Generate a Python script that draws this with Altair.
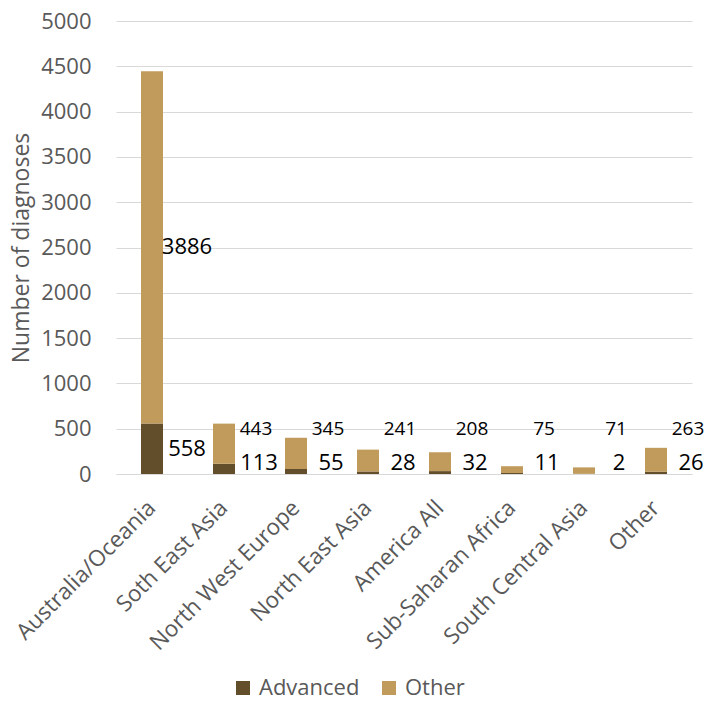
import altair as alt
import pandas as pd

regions = ["Australia/Oceania", "Soth East Asia", "North West Europe", "North East Asia",
           "America All", "Sub-Saharan Africa", "South Central Asia", "Other"]
advanced = [558, 113, 55, 28, 32, 11, 2, 26]
other = [3886, 443, 345, 241, 208, 75, 71, 263]
series = ["Advanced", "Other"]
colors = ["#624e2a", "#c19b5b"]
y_ticks = list(range(0, 5001, 500))

rows = []
for i, r in enumerate(regions):
    a, o = advanced[i], other[i]
    rows.append({"region": r, "series": "Advanced", "value": a, "order": 0,
                 "label": str(a), "ly": max(a / 2, 121), "big": 1})
    rows.append({"region": r, "series": "Other", "value": o, "order": 1,
                 "label": str(o), "ly": max(a + o / 2, 497), "big": 1 if o > 1000 else 0})
df = pd.DataFrame(rows)

FONT = "Open Sans"
GREY = "#595959"

base = alt.Chart(df)

bars = base.mark_bar(size=22).encode(
    x=alt.X("region:N", sort=regions, title=None,
            axis=alt.Axis(labelAngle=-45, labelFontSize=22.5, labelColor=GREY, labelFont=FONT,
                          ticks=False, labelPadding=30, domainColor="#d9d9d9", labelLimit=0,
                          labelAlign="right", labelBaseline="middle")),
    y=alt.Y("value:Q", stack="zero", title="Number of diagnoses",
            scale=alt.Scale(domain=[0, 5000], nice=False),
            axis=alt.Axis(values=y_ticks, format="d", labelFontSize=22, labelColor=GREY, labelFont=FONT,
                          titleFontSize=23, titleColor=GREY, titleFont=FONT, titleFontWeight="normal",
                          gridColor="#d9d9d9", domain=False, ticks=False, labelPadding=25,
                          titlePadding=7)),
    color=alt.Color("series:N", sort=series, scale=alt.Scale(domain=series, range=colors),
                    legend=alt.Legend(title=None, orient="none", direction="horizontal",
                                      legendX=116, legendY=656, symbolType="square", symbolSize=196,
                                      symbolStrokeWidth=0, labelFontSize=22, labelColor=GREY,
                                      labelFont=FONT, columnPadding=18, labelOffset=5)),
    order=alt.Order("order:Q"),
)

labels_big = base.transform_filter("datum.big == 1").mark_text(
    fontSize=22, font=FONT, color="#000000", align="center", dx=35, baseline="middle"
).encode(x=alt.X("region:N", sort=regions), y=alt.Y("ly:Q"), text="label:N")

labels_small = base.transform_filter("datum.big == 0").mark_text(
    fontSize=19, font=FONT, color="#000000", align="center", dx=32, baseline="middle"
).encode(x=alt.X("region:N", sort=regions), y=alt.Y("ly:Q"), text="label:N")

chart = (bars + labels_big + labels_small).properties(
    width=576, height=453,
    autosize=alt.AutoSizeParams(type="none"),
    padding={"left": 116, "top": 21, "right": 16, "bottom": 229},
).configure_view(stroke=None)

chart.save("out.html", embed_options={"renderer": "svg", "actions": False})
